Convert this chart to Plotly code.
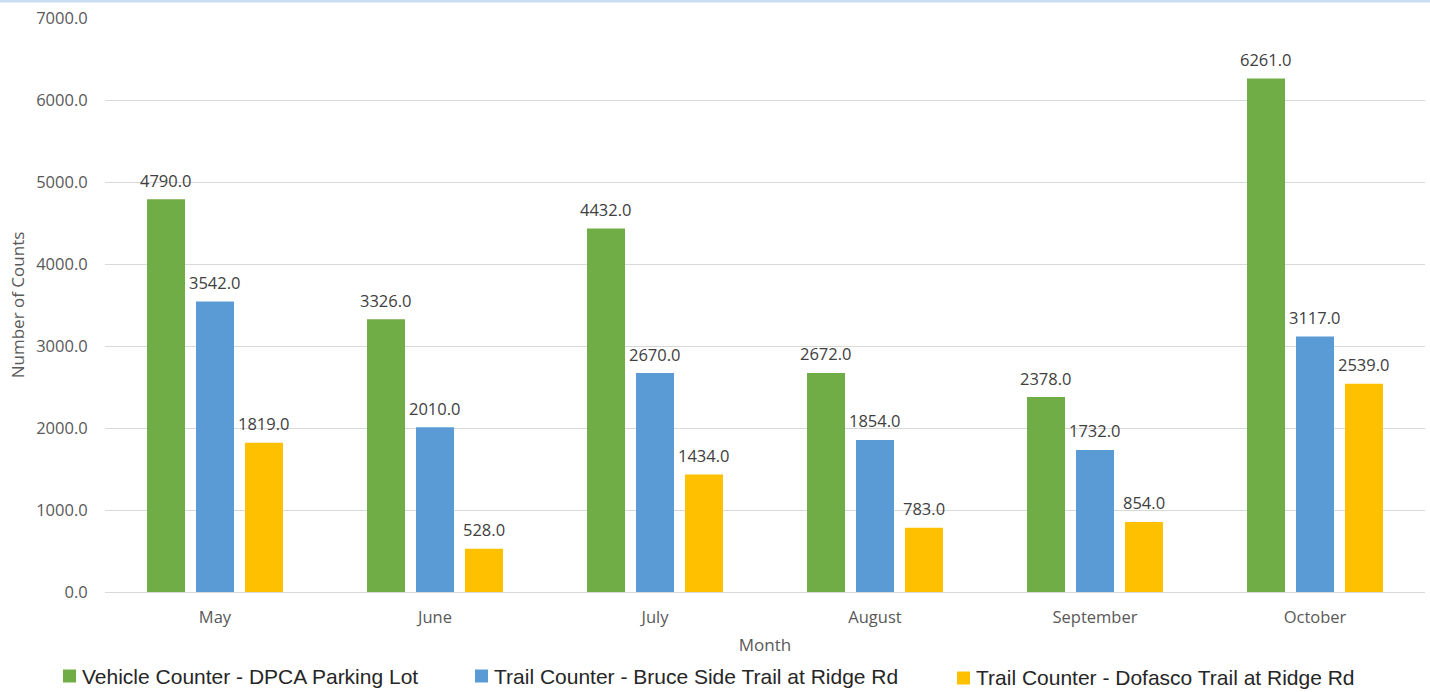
import plotly.graph_objects as go

# Monthly counts at the three counters
months = ["May", "June", "July", "August", "September", "October"]
vehicle_dpca = [4790, 3326, 4432, 2672, 2378, 6261]
trail_bruce = [3542, 2010, 2670, 1854, 1732, 3117]
trail_dofasco = [1819, 528, 1434, 783, 854, 2539]

series_names = [
    "Vehicle Counter - DPCA Parking Lot",
    "Trail Counter - Bruce Side Trail at Ridge Rd",
    "Trail Counter - Dofasco Trail at Ridge Rd",
]
series_values = [vehicle_dpca, trail_bruce, trail_dofasco]
series_colors = ["#70AD47", "#5B9BD5", "#FFC000"]

y_ticks = [0, 1000, 2000, 3000, 4000, 5000, 6000, 7000]

label_font = dict(family="Open Sans", size=16.5, color="#404040")
tick_font = dict(family="Open Sans", size=16.5, color="#595959")

fig = go.Figure()
for name, vals, col in zip(series_names, series_values, series_colors):
    fig.add_trace(go.Bar(
        x=months, y=vals, name=name,
        marker=dict(color=col, line=dict(width=0)),
        showlegend=False,
    ))

# Value labels above each bar, shifted to the bar's slot in the group
slot_px = 49
for i, vals in enumerate(series_values):
    for m, v in zip(months, vals):
        fig.add_annotation(
            x=m, y=v, xref="x", yref="y",
            text=f"{v:.1f}", showarrow=False,
            xshift=(i - 1) * slot_px, yshift=19,
            yanchor="middle", font=label_font,
        )

# Legend row drawn beneath the axis title
legend_items = [
    (63, 676, series_names[0], series_colors[0]),
    (475, 676, series_names[1], series_colors[1]),
    (957, 678, series_names[2], series_colors[2]),
]
W, H = 1430, 692
L, R, T, B = 105, 5, 18, 100
pw, ph = W - L - R, H - T - B
for px, py, name, col in legend_items:
    x0 = (px - L) / pw
    x1 = (px + 13 - L) / pw
    yc = (H - B - py) / ph
    fig.add_shape(
        type="rect", xref="paper", yref="paper",
        x0=x0, x1=x1, y0=yc - 6.5 / ph, y1=yc + 6.5 / ph,
        fillcolor=col, line=dict(width=0),
    )
    fig.add_annotation(
        x=(px + 17 - L) / pw, y=yc, xref="paper", yref="paper",
        text=name, showarrow=False, xanchor="left", yanchor="middle",
        font=dict(family="Liberation Sans", size=21, color="#262626"),
    )

# Thin light-blue rule along the top edge
fig.add_shape(
    type="rect", xref="paper", yref="paper",
    x0=-L / pw, x1=1 + R / pw, y0=1 + (T - 2.5) / ph, y1=1 + (T + 1) / ph,
    fillcolor="#C9DEF2", line=dict(width=0),
)

fig.update_layout(
    width=W, height=H,
    margin=dict(l=L, r=R, t=T, b=B),
    paper_bgcolor="white", plot_bgcolor="white",
    barmode="group", bargap=0.332, bargroupgap=0.224,
    showlegend=False,
    xaxis=dict(
        title=dict(text="Month", font=dict(family="Open Sans", size=17, color="#595959"), standoff=12),
        tickfont=tick_font, ticks="outside", ticklen=10, tickcolor="rgba(0,0,0,0)",
        showline=False, showgrid=False, automargin=False,
    ),
    yaxis=dict(
        title=dict(text="Number of Counts", font=dict(family="Open Sans", size=17, color="#595959"), standoff=7),
        range=[0, 7000], tickvals=y_ticks, tickformat=".1f",
        tickfont=tick_font, ticks="outside", ticklen=13, tickcolor="rgba(0,0,0,0)",
        showgrid=True, gridcolor="#D9D9D9", gridwidth=1,
        zeroline=True, zerolinecolor="#D9D9D9", zerolinewidth=1,
        showline=False, automargin=False,
    ),
)

fig.write_html("out.html")
